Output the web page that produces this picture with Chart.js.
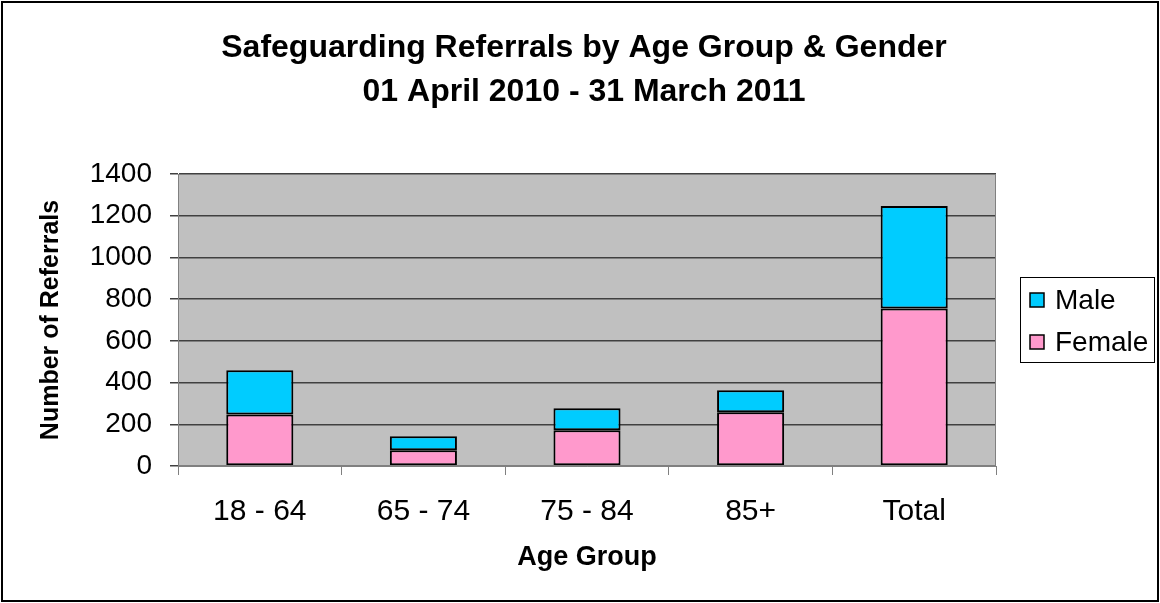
<!DOCTYPE html>
<html>
<head>
<meta charset="utf-8">
<script src="https://cdn.jsdelivr.net/npm/chart.js@4"></script>
<style>
  body { margin: 0; background: #fff; }
</style>
</head>
<body>
<canvas id="myChart" width="1160" height="603"></canvas>
<script>
var ageGroups = ['18 - 64', '65 - 74', '75 - 84', '85+', 'Total'];
var female = [247, 75, 172, 258, 755];
var male = [212, 68, 105, 105, 492];
var yTicks = [0, 200, 400, 600, 800, 1000, 1200, 1400];

var font = "'Liberation Sans', Arial, sans-serif";

// grey plot area, outer frame and a framed legend (Male above Female)
var frames = {
    id: 'frames',
    beforeDraw: function(chart) {
        var c = chart.ctx, a = chart.chartArea;
        c.save();
        c.fillStyle = '#c0c0c0';
        c.fillRect(a.left, a.top, a.right - a.left, a.bottom - a.top);
        c.restore();
    },
    afterDraw: function(chart) {
        var c = chart.ctx, a = chart.chartArea;
        c.save();
        c.strokeStyle = '#808080';
        c.lineWidth = 1;
        c.strokeRect(a.left + 0.5, a.top + 0.5, a.right - a.left - 1, a.bottom - a.top - 1);
        c.strokeStyle = '#000';
        c.lineWidth = 2;
        c.strokeRect(2, 2, chart.width - 4, chart.height - 4);

        // legend
        var lx = a.right + 24, ly = (a.top + a.bottom) / 2 - 43;
        c.lineWidth = 1;
        c.strokeRect(lx + 0.5, ly + 0.5, 134, 85);
        var sets = chart.data.datasets.slice().reverse();
        c.font = '28px ' + font;
        c.textBaseline = 'middle';
        c.textAlign = 'left';
        sets.forEach(function(ds, i) {
            var cy = ly + 23 + i * 42;
            c.fillStyle = ds.backgroundColor;
            c.fillRect(lx + 10, cy - 7, 14, 14);
            c.lineWidth = 1.5;
            c.strokeStyle = '#000';
            c.strokeRect(lx + 10, cy - 7, 14, 14);
            c.fillStyle = '#000';
            c.fillText(ds.label, lx + 35, cy + 1);
        });
        c.restore();
    }
};

var ctx = document.getElementById('myChart');
var myChart = new Chart(ctx, {
    type: 'bar',
    data: {
        labels: ageGroups,
        datasets: [{
            label: 'Female',
            data: female,
            backgroundColor: '#ff99cc',
            borderColor: '#000',
            borderWidth: 2,
            borderSkipped: false,
            barPercentage: 0.41,
            categoryPercentage: 1
        }, {
            label: 'Male',
            data: male,
            backgroundColor: '#00ccff',
            borderColor: '#000',
            borderWidth: 2,
            borderSkipped: false,
            barPercentage: 0.41,
            categoryPercentage: 1
        }]
    },
    options: {
        responsive: false,
        animation: false,
        layout: { padding: { top: 8, left: 8, right: 0, bottom: 10 } },
        plugins: {
            title: {
                display: true,
                text: ['Safeguarding Referrals by Age Group & Gender', '01 April 2010 - 31 March 2011'],
                color: '#000',
                font: { family: font, size: 32, weight: 'bold', lineHeight: 1.375 },
                padding: { top: 18, bottom: 60 }
            },
            legend: { display: false },
            tooltip: { enabled: false }
        },
        scales: {
            x: {
                stacked: true,
                afterFit: function(axis) { axis.height = 127; },
                grid: {
                    offset: true,
                    drawOnChartArea: false,
                    color: '#808080',
                    tickLength: 9
                },
                border: { color: '#808080' },
                ticks: { color: '#000', font: { family: font, size: 30 }, padding: 19 },
                title: {
                    display: true,
                    text: 'Age Group',
                    color: '#000',
                    font: { family: font, size: 27, weight: 'bold' },
                    padding: { top: 0, bottom: 19 }
                }
            },
            y: {
                stacked: true,
                min: 0,
                max: 1400,
                afterFit: function(axis) { axis.width = 170; },
                afterBuildTicks: function(axis) {
                    axis.ticks = yTicks.map(function(v) { return { value: v }; });
                },
                grid: {
                    color: '#404040',
                    lineWidth: 1.5,
                    tickLength: 8
                },
                border: { color: '#808080' },
                ticks: {
                    color: '#000',
                    font: { family: font, size: 28 },
                    padding: 18,
                    callback: function(v) { return String(v); }
                },
                title: {
                    display: true,
                    text: 'Number of Referrals',
                    color: '#000',
                    font: { family: font, size: 25, weight: 'bold' },
                    padding: { top: 28, bottom: 0 }
                }
            },
            // empty axis that keeps room on the right for the legend
            legendSpace: {
                type: 'linear',
                position: 'right',
                afterFit: function(axis) { axis.width = 164; },
                grid: { display: false },
                border: { display: false },
                ticks: { display: false }
            }
        }
    },
    plugins: [frames]
});
</script>
</body>
</html>
